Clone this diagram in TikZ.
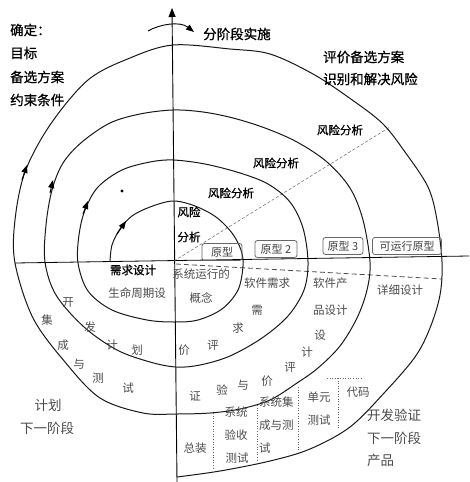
\documentclass[tikz,border=0pt]{standalone}
\usepackage{fontspec}
\setmainfont{Noto Sans CJK SC}
\newfontfamily\boldcjk{Noto Sans CJK SC}[FakeBold=0.8]
\usetikzlibrary{arrows.meta}
\begin{document}
\begin{tikzpicture}[x=1pt,y=-1pt,
  curve/.style={line width=1pt, black!90},
  arr/.style={-{Triangle[length=8pt,width=6pt]}, line width=1pt},
  big/.style={font=\boldcjk\fontsize{13.5}{14}\selectfont, inner sep=0pt},
  mid/.style={font=\boldcjk\fontsize{11.5}{12}\selectfont, inner sep=0pt},
  low/.style={font=\fontsize{11.5}{12}\selectfont, inner sep=0pt, text=black!70},
  lowbig/.style={font=\fontsize{13.5}{14}\selectfont, inner sep=0pt, text=black!70},
  proto/.style={draw=black!60, line width=0.8pt, rounded corners=2.5pt, minimum height=17pt, inner sep=1pt, font=\fontsize{11}{12}\selectfont, text=black!75},
  dotl/.style={dotted, line width=0.6pt, black!60}
]
\useasboundingbox (0,0) rectangle (469,482);
\fill[white] (0,0) rectangle (469,482);

% axes
\coordinate (vtop) at (172,8);
\coordinate (vbot) at (177,482);
\coordinate (hl) at (15,263);
\coordinate (hr) at (469,256);
\draw[line width=0.9pt,-{Triangle[length=9pt,width=7pt]}] (vbot) -- (vtop);
\draw[line width=0.8pt] (hl) -- (hr);

% diagonal dashed and lower dashed
\coordinate (o) at (174,261);
\coordinate (dd) at (390,127);
\coordinate (dl) at (442,279);
\coordinate (dls) at (176,264);
\draw[dashed, line width=0.5pt, black!60, dash pattern=on 3pt off 2pt] (o) -- (dd);
\draw[dashed, line width=0.8pt, black!70, dash pattern=on 5pt off 3pt] (dls) -- (dl);

% spiral
\draw[curve] plot[smooth, tension=0.55] coordinates {
(110,262) (112,245) (120,229) (132,216) (150,207) (173,201) (195,206) (216,217) (232,233) (241,250) (243,266) (238,290) (222,309) (198,320) (175,322) (147,320) (112,310) (88,291) (78,263)
(79,235) (85,210) (98,187) (122,170) (150,162) (173,160) (205,164) (240,173) (268,184) (290,202) (303,228) (308,262) (304,290) (288,316) (262,338) (230,356) (200,365) (176,367) (150,362) (117,350) (84,327) (56,295) (45,262)
(46,225) (52,190) (63,163) (82,142) (110,123) (140,114) (173,110) (203,112) (233,118) (265,128) (297,142) (327,162) (350,188) (363,220) (370,262) (367,290) (357,318) (340,346) (318,368) (297,383) (270,400) (240,409) (210,413) (176,414) (143,413) (100,398) (65,362) (33,318) (15,263)
(15,220) (25,172) (50,125) (88,80) (130,58) (173,45) (230,49) (270,54) (313,74) (348,97) (382,123) (405,152) (428,187) (437,220) (442,262) (440,295) (430,328) (415,357) (385,392) (350,427) (310,449) (270,461) (220,471) (177,477)};

% arrows on spiral
\draw[arr] (117,234) -- (126,221);
\draw[arr] (83,214) -- (88,201);
\draw[arr] (50,193) -- (53,180);
\draw[arr] (22,180) -- (27,165);

% top small arc arrow
\coordinate (a1) at (148,31);
\coordinate (a2) at (194,32);
\draw[line width=0.9pt,-{Triangle[length=8pt,width=6pt]}] (a1) .. controls (160,24) and (180,21) .. (a2);

% dot
\fill (122,191) circle (1.6pt);

% upper labels
\node[big, anchor=west] (t1) at (10,30) {确定：};
\node[big, anchor=west] (t2) at (10,53) {目标};
\node[big, anchor=west] (t3) at (10,77) {备选方案};
\node[big, anchor=west] (t4) at (10,100) {约束条件};
\node[big, anchor=west] (t5) at (203,34) {分阶段实施};
\node[big, anchor=west] (t6) at (323,57) {评价备选方案};
\node[big, anchor=west] (t7) at (323,79) {识别和解决风险};
\node[mid] (r1) at (340,130) {风险分析};
\node[mid] (r2) at (276,163) {风险分析};
\node[mid] (r3) at (231,193) {风险分析};
\node[mid] (r4) at (189,212) {风险};
\node[mid] (r5) at (189,237) {分析};

% prototypes
\node[proto, minimum width=40pt] (p1) at (222,252) {原型};
\node[proto, minimum width=42pt] (p2) at (276,249) {原型 2};
\node[proto, minimum width=40pt] (p3) at (343,246) {原型 3};
\node[proto, minimum width=69pt] (p4) at (407,246) {可运行原型};

% lower labels
\node[mid] (l1) at (133,270) {需求设计};
\node[low] (l2) at (137,293) {生命周期设};
\node[low] (l3) at (201,274) {系统运行的};
\node[low] (l4) at (201,298) {概念};
\node[low] (l5) at (267,283) {软件需求};
\node[low] (q1) at (257,310) {需};
\node[low] (q2) at (238,328) {求};
\node[low] (q3) at (213,345) {评};
\node[low] (q4) at (184,350) {价};
\node[low, anchor=west] (l6) at (313,283) {软件产};
\node[low, anchor=west] (l7) at (313,310) {品设计};
\node[low] (s1) at (320,335) {设};
\node[low] (s2) at (307,352) {计};
\node[low] (s3) at (290,367) {评};
\node[low] (s4) at (267,381) {价};
\node[low] (s5) at (243,385) {与};
\node[low] (s6) at (222,390) {验};
\node[low] (s7) at (195,396) {证};
\node[low] (l8) at (400,290) {详细设计};
\node[low] (k1) at (68,303) {开};
\node[low] (k2) at (90,327) {发};
\node[low] (k3) at (112,345) {计};
\node[low] (k4) at (137,350) {划};
\node[low] (j1) at (47,320) {集};
\node[low] (j2) at (63,345) {成};
\node[low] (j3) at (79,364) {与};
\node[low] (j4) at (98,378) {测};
\node[low] (j5) at (128,388) {试};
\node[lowbig] (n1) at (48,405) {计划};
\node[lowbig] (n2) at (47,428) {下一阶段};
\node[low] (c1) at (195,448) {总装};
\node[low] (c2) at (236,412) {系统};
\node[low] (c3) at (236,435) {验收};
\node[low] (c4) at (237,458) {测试};
\node[low, anchor=west] (c5) at (259,402) {系统集};
\node[low, anchor=west] (c6) at (259,425) {成与测};
\node[low, anchor=west] (c7) at (259,448) {试};
\node[low] (c8) at (319,397) {单元};
\node[low] (c9) at (319,420) {测试};
\node[low] (c10) at (358,392) {代码};
\node[lowbig, anchor=west] (e1) at (367,415) {开发验证};
\node[lowbig, anchor=west] (e2) at (367,438) {下一阶段};
\node[lowbig, anchor=west] (e3) at (367,460) {产品};

% dotted separators
\coordinate (d1a) at (213,413); \coordinate (d1b) at (213,469);
\coordinate (d2a) at (257,405); \coordinate (d2b) at (257,461);
\coordinate (d3a) at (298,387); \coordinate (d3b) at (298,450);
\coordinate (d4a) at (338,378); \coordinate (d4b) at (338,428);
\coordinate (d5a) at (327,378); \coordinate (d5b) at (363,378);
\draw[dotl] (d1a) -- (d1b);
\draw[dotl] (d2a) -- (d2b);
\draw[dotl] (d3a) -- (d3b);
\draw[dotl] (d4a) -- (d4b);
\draw[dotl] (d5a) -- (d5b);
\end{tikzpicture}
\end{document}
